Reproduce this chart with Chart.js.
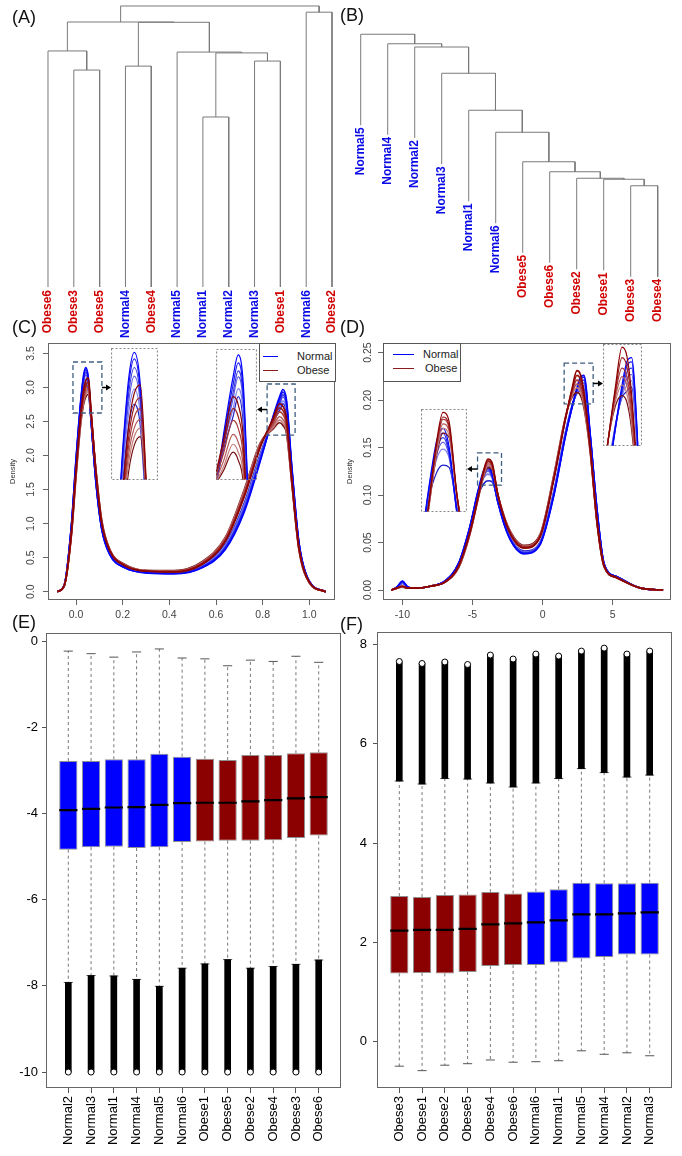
<!DOCTYPE html>
<html>
<head>
<meta charset="utf-8">
<title>Sample clustering, density and boxplots</title>
<script src="https://cdn.jsdelivr.net/npm/chart.js@4.4.1/dist/chart.umd.min.js"></script>
<style>
  body { margin: 0; background: #fff; }
  #page { position: relative; width: 682px; height: 1156px; overflow: hidden; font-family: "Liberation Sans", Arial, sans-serif; }
  #page canvas { position: absolute; }
  .tag { position: absolute; font-size: 18px; line-height: 20px; color: #111; }
  .legend { position: absolute; box-sizing: border-box; border: 1px solid #555; background: #fff; font-size: 11px; color: #222; }
  .legend .ln { position: absolute; height: 0; border-top: 1.5px solid; }
  .legend .tx { position: absolute; line-height: 12px; white-space: nowrap; }
</style>
</head>
<body>
<div id="page">
  <canvas id="dendA" width="340" height="345" style="left:0;top:0"></canvas>
  <canvas id="dendB" width="342" height="325" style="left:340px;top:0"></canvas>
  <canvas id="densC" width="340" height="290" style="left:0;top:335px"></canvas>
  <canvas id="densD" width="342" height="290" style="left:340px;top:335px"></canvas>
  <canvas id="inC1" width="47" height="132" style="left:111px;top:348px"></canvas>
  <canvas id="inC2" width="41" height="131" style="left:216px;top:349px"></canvas>
  <canvas id="inD1" width="46" height="103" style="left:421px;top:409px"></canvas>
  <canvas id="inD2" width="39" height="102" style="left:603px;top:344px"></canvas>
  <canvas id="boxE" width="345" height="531" style="left:0;top:625px"></canvas>
  <canvas id="boxF" width="342" height="531" style="left:340px;top:625px"></canvas>

  <div class="legend" style="left:259px;top:343px;width:77px;height:39px">
    <span class="ln" style="left:3px;top:12px;width:15px;border-top-color:#0000ff"></span><span class="tx" style="left:37px;top:6px">Normal</span>
    <span class="ln" style="left:3px;top:26px;width:15px;border-top-color:#8b1a1a"></span><span class="tx" style="left:37px;top:20px">Obese</span>
  </div>
  <div class="legend" style="left:383px;top:343px;width:78px;height:39px">
    <span class="ln" style="left:9px;top:10px;width:21px;border-top-color:#0000ff"></span><span class="tx" style="left:39px;top:4px">Normal</span>
    <span class="ln" style="left:9px;top:24px;width:21px;border-top-color:#8b1a1a"></span><span class="tx" style="left:41px;top:18px">Obese</span>
  </div>

  <div class="tag" style="left:12px;top:7px">(A)</div>
  <div class="tag" style="left:340px;top:5px">(B)</div>
  <div class="tag" style="left:12px;top:317px">(C)</div>
  <div class="tag" style="left:340px;top:317px">(D)</div>
  <div class="tag" style="left:12px;top:612px">(E)</div>
  <div class="tag" style="left:340px;top:614px">(F)</div>
</div>
<script>
// (A) clustering: leaves in plotted order, merges as in hclust (negative = leaf position)
const leafA = ['Obese6','Obese3','Obese5','Normal4','Obese4','Normal5','Normal1','Normal2','Normal3','Obese1','Normal6','Obese2'];
const mergeA = [[-2,-3],[-7,-8],[-4,-5],[-9,-10],[2,4],[-6,5],[-1,1],[3,6],[7,8],[-11,-12],[9,10]];
const heightA = [0.772,0.605,0.786,0.804,0.833,0.836,0.840,0.942,0.943,0.978,1.0];

// (B) clustering
const leafB = ['Normal5','Normal4','Normal2','Normal3','Normal1','Normal6','Obese5','Obese6','Obese2','Obese1','Obese3','Obese4'];
const mergeB = [[-11,-12],[-10,1],[-9,2],[-8,3],[-7,4],[-6,5],[-5,6],[-4,7],[-3,8],[-2,9],[-1,10]];
const heightB = [0.394,0.420,0.424,0.450,0.490,0.608,0.696,0.844,0.949,0.962,1.0];
const hangB = 0.364;

// (C) beta-value densities
const xC = [-0.08,-0.05,-0.02,0.0,0.02,0.032,0.042,0.053,0.065,0.085,0.11,0.145,0.21,0.31,0.42,0.54,0.64,0.72,0.79,0.845,0.872,0.887,0.902,0.925,0.955,1.0,1.07];
const cNormal = [
  [0,0.10,0.97,1.95,2.80,3.17,3.29,3.14,2.52,1.62,0.92,0.54,0.35,0.27,0.26,0.35,0.62,1.16,1.92,2.58,2.86,2.97,2.82,1.84,0.74,0.15,0],
  [0,0.10,0.96,1.93,2.78,3.14,3.26,3.11,2.51,1.62,0.93,0.55,0.35,0.28,0.27,0.36,0.64,1.19,1.94,2.56,2.82,2.93,2.78,1.82,0.73,0.15,0],
  [0,0.10,0.95,1.91,2.76,3.10,3.22,3.08,2.50,1.63,0.93,0.55,0.35,0.28,0.27,0.36,0.65,1.21,1.96,2.54,2.78,2.89,2.75,1.80,0.72,0.15,0],
  [0,0.10,0.94,1.89,2.73,3.06,3.18,3.05,2.50,1.64,0.94,0.56,0.36,0.28,0.27,0.37,0.66,1.23,1.98,2.53,2.75,2.86,2.72,1.79,0.72,0.15,0],
  [0,0.10,0.93,1.86,2.69,3.01,3.12,3.00,2.49,1.65,0.95,0.56,0.36,0.28,0.28,0.38,0.68,1.26,2.00,2.52,2.70,2.80,2.67,1.77,0.71,0.15,0],
  [0,0.09,0.91,1.83,2.65,2.95,3.05,2.95,2.48,1.66,0.96,0.57,0.37,0.29,0.28,0.39,0.70,1.29,2.03,2.50,2.66,2.76,2.62,1.75,0.70,0.15,0]
];
const cObese = [
  [0,0.09,0.86,1.78,2.60,2.95,3.10,3.14,2.63,1.76,1.01,0.60,0.38,0.30,0.29,0.40,0.74,1.38,2.12,2.55,2.76,2.72,2.55,1.65,0.66,0.14,0],
  [0,0.09,0.85,1.76,2.57,2.90,3.04,3.08,2.62,1.77,1.02,0.60,0.38,0.30,0.29,0.41,0.75,1.41,2.14,2.52,2.70,2.66,2.50,1.63,0.65,0.14,0],
  [0,0.09,0.84,1.74,2.54,2.86,2.99,3.03,2.61,1.78,1.03,0.61,0.39,0.30,0.30,0.42,0.77,1.43,2.16,2.48,2.64,2.60,2.45,1.61,0.64,0.13,0],
  [0,0.09,0.83,1.72,2.51,2.82,2.94,2.98,2.60,1.79,1.04,0.61,0.39,0.31,0.30,0.42,0.78,1.45,2.17,2.44,2.57,2.53,2.40,1.60,0.64,0.13,0],
  [0,0.09,0.82,1.70,2.48,2.78,2.90,2.94,2.59,1.80,1.05,0.62,0.39,0.31,0.30,0.43,0.79,1.47,2.18,2.41,2.52,2.48,2.36,1.59,0.63,0.13,0],
  [0,0.09,0.81,1.68,2.45,2.74,2.86,2.90,2.58,1.81,1.06,0.62,0.40,0.31,0.31,0.44,0.80,1.49,2.19,2.39,2.48,2.44,2.32,1.58,0.62,0.13,0]
];
const cTickX = [0,0.2,0.4,0.6,0.8,1.0];
const cTickY = [0,0.5,1.0,1.5,2.0,2.5,3.0,3.5];

// (D) M-value densities
const xD = [-10.8,-10.4,-10.0,-9.6,-9.0,-8.0,-7.0,-6.0,-5.2,-4.6,-4.2,-3.9,-3.6,-3.2,-2.4,-1.3,-0.2,0.8,1.6,2.1,2.45,2.7,2.95,3.4,3.9,4.4,5.3,7.0,8.6];
const dNormal = [
  [0,0.003,0.0095,0.003,0.002,0.004,0.009,0.028,0.066,0.105,0.126,0.131,0.123,0.094,0.056,0.038,0.047,0.099,0.160,0.193,0.213,0.224,0.226,0.164,0.083,0.027,0.014,0.002,0],
  [0,0.003,0.009,0.003,0.002,0.004,0.009,0.028,0.066,0.104,0.124,0.129,0.121,0.093,0.056,0.039,0.048,0.100,0.160,0.192,0.211,0.222,0.224,0.163,0.082,0.027,0.014,0.002,0],
  [0,0.003,0.0085,0.003,0.002,0.004,0.009,0.027,0.065,0.103,0.122,0.127,0.120,0.093,0.057,0.039,0.048,0.101,0.161,0.192,0.210,0.219,0.221,0.162,0.082,0.027,0.014,0.002,0],
  [0,0.003,0.008,0.003,0.002,0.004,0.009,0.027,0.065,0.103,0.120,0.125,0.119,0.094,0.057,0.040,0.049,0.102,0.162,0.193,0.209,0.216,0.218,0.161,0.081,0.027,0.014,0.002,0],
  [0,0.003,0.0075,0.003,0.002,0.004,0.009,0.027,0.064,0.102,0.118,0.122,0.118,0.095,0.058,0.040,0.049,0.103,0.163,0.193,0.208,0.213,0.215,0.160,0.081,0.026,0.014,0.002,0],
  [0,0.002,0.007,0.003,0.002,0.004,0.009,0.026,0.063,0.100,0.112,0.115,0.114,0.096,0.058,0.041,0.050,0.104,0.164,0.194,0.207,0.210,0.212,0.159,0.080,0.026,0.014,0.002,0]
];
const dObese = [
  [0,0.002,0.004,0.002,0.002,0.004,0.008,0.025,0.060,0.098,0.126,0.138,0.134,0.101,0.062,0.044,0.055,0.116,0.178,0.212,0.231,0.227,0.209,0.150,0.071,0.025,0.013,0.002,0],
  [0,0.002,0.004,0.002,0.002,0.004,0.008,0.025,0.060,0.098,0.125,0.136,0.132,0.101,0.063,0.045,0.056,0.117,0.178,0.210,0.226,0.222,0.205,0.149,0.070,0.025,0.013,0.002,0],
  [0,0.002,0.004,0.002,0.002,0.004,0.008,0.024,0.059,0.097,0.124,0.135,0.131,0.100,0.063,0.045,0.056,0.118,0.179,0.209,0.221,0.217,0.201,0.148,0.070,0.025,0.013,0.002,0],
  [0,0.002,0.0035,0.002,0.002,0.004,0.008,0.024,0.059,0.097,0.123,0.133,0.130,0.101,0.064,0.046,0.057,0.119,0.179,0.207,0.217,0.213,0.198,0.147,0.069,0.024,0.013,0.002,0],
  [0,0.002,0.0035,0.002,0.002,0.004,0.008,0.024,0.058,0.096,0.121,0.131,0.128,0.100,0.064,0.046,0.057,0.120,0.180,0.205,0.213,0.209,0.195,0.146,0.069,0.024,0.013,0.002,0],
  [0,0.002,0.003,0.002,0.002,0.004,0.008,0.023,0.058,0.096,0.120,0.129,0.127,0.101,0.065,0.047,0.058,0.121,0.180,0.203,0.208,0.205,0.192,0.145,0.068,0.024,0.013,0.002,0]
];
const dTickX = [-10,-5,0,5];
const dTickY = [0,0.05,0.10,0.15,0.20,0.25];

// (E) boxplot statistics
const boxE = ['Normal2','Normal3','Normal1','Normal4','Normal5','Normal6','Obese1','Obese5','Obese2','Obese4','Obese3','Obese6'];
const eHi  = [-0.23,-0.29,-0.37,-0.25,-0.18,-0.39,-0.41,-0.57,-0.44,-0.47,-0.35,-0.49];
const eQ3  = [-2.78,-2.78,-2.74,-2.74,-2.61,-2.68,-2.73,-2.76,-2.64,-2.64,-2.60,-2.58];
const eMed = [-3.92,-3.89,-3.86,-3.85,-3.80,-3.76,-3.75,-3.75,-3.72,-3.69,-3.65,-3.62];
const eQ1  = [-4.84,-4.78,-4.77,-4.80,-4.78,-4.66,-4.65,-4.63,-4.63,-4.62,-4.57,-4.51];
const eLo  = [-7.92,-7.76,-7.77,-7.85,-8.01,-7.59,-7.49,-7.39,-7.59,-7.55,-7.50,-7.40];
const eOutMin = [-10,-10,-10,-10,-10,-10,-10,-10,-10,-10,-10,-10];
const eTickY = [0,-2,-4,-6,-8,-10];

// (F) boxplot statistics
const boxF = ['Obese3','Obese1','Obese2','Obese5','Obese4','Obese6','Normal6','Normal1','Normal5','Normal4','Normal2','Normal3'];
const fLo  = [-0.50,-0.59,-0.48,-0.45,-0.375,-0.42,-0.41,-0.39,-0.19,-0.26,-0.23,-0.29];
const fQ1  = [1.37,1.38,1.37,1.40,1.52,1.54,1.54,1.59,1.67,1.70,1.75,1.75];
const fMed = [2.235,2.25,2.25,2.27,2.36,2.38,2.40,2.44,2.56,2.56,2.58,2.60];
const fQ3  = [2.93,2.91,2.95,2.96,3.01,2.98,3.02,3.07,3.20,3.19,3.19,3.20];
const fHi  = [5.25,5.19,5.30,5.29,5.21,5.13,5.21,5.30,5.50,5.42,5.33,5.37];
const fOutMax = [7.66,7.62,7.65,7.60,7.79,7.71,7.81,7.77,7.87,7.93,7.81,7.87];
const fTickY = [0,2,4,6,8];

const normalCols = ['#0000ff','#1c1cf0','#3a3ae0','#5b5be6','#8080ee','#2020c8'];
const obeseCols  = ['#8b0000','#9c1c1c','#a83a3a','#b45858','#c47c7c','#761010'];

Chart.defaults.font.family = '"Liberation Sans", Arial, sans-serif';

const isNormal = n => n.startsWith('Normal');
const labelColor = n => isNormal(n) ? '#0a0ae6' : '#d00000';

function fixAxis(size) {
  return s => {
    if (s.isHorizontal()) s.height = size; else s.width = size;
    s.paddingLeft = 0; s.paddingRight = 0; s.paddingTop = 0; s.paddingBottom = 0;
  };
}
const setTicks = vals => s => { s.ticks = vals.map(v => ({ value: v })); };

// frame around the plot region
Chart.register({
  id: 'frame',
  afterDraw(chart, args, o) {
    if (!o.color) return;
    const { ctx, chartArea: a } = chart;
    ctx.save();
    ctx.strokeStyle = o.color;
    ctx.lineWidth = o.width || 1;
    ctx.setLineDash(o.dash || []);
    ctx.strokeRect(Math.round(a.left) + 0.5, Math.round(a.top) + 0.5, Math.round(a.width) - 1, Math.round(a.height) - 1);
    ctx.restore();
  }
});

// dashed zoom boxes with arrows towards the insets
Chart.register({
  id: 'zoomMarks',
  afterDatasetsDraw(chart, args, o) {
    if (!o.boxes) return;
    const { ctx, scales: { x, y } } = chart;
    o.boxes.forEach(b => {
      const x0 = x.getPixelForValue(b.x[0]), x1 = x.getPixelForValue(b.x[1]);
      const y0 = y.getPixelForValue(b.y[1]), y1 = y.getPixelForValue(b.y[0]);
      ctx.save();
      ctx.strokeStyle = '#3f5f80';
      ctx.lineWidth = 1.3;
      ctx.setLineDash([5, 3]);
      ctx.strokeRect(x0, y0, x1 - x0, y1 - y0);
      ctx.setLineDash([]);
      const ym = (y0 + y1) / 2;
      const dir = b.to > x1 ? 1 : -1;
      const from = dir > 0 ? x1 : x0;
      ctx.strokeStyle = '#000';
      ctx.fillStyle = '#000';
      ctx.lineWidth = 1.5;
      ctx.beginPath(); ctx.moveTo(from, ym); ctx.lineTo(b.to - dir * 4, ym); ctx.stroke();
      ctx.beginPath(); ctx.moveTo(b.to, ym); ctx.lineTo(b.to - dir * 5, ym - 3); ctx.lineTo(b.to - dir * 5, ym + 3); ctx.closePath(); ctx.fill();
      ctx.restore();
    });
  }
});

// hanging leaf labels for dendrogram B
Chart.register({
  id: 'leafLabels',
  afterDatasetsDraw(chart, args, o) {
    if (!o.names) return;
    const { ctx, scales: { x, y } } = chart;
    ctx.save();
    ctx.font = 'bold 12px "Liberation Sans", Arial, sans-serif';
    ctx.textAlign = 'right';
    ctx.textBaseline = 'middle';
    o.names.forEach((n, i) => {
      ctx.save();
      ctx.translate(x.getPixelForValue(i + 1), y.getPixelForValue(o.ends[i]) + 2);
      ctx.rotate(-Math.PI / 2);
      ctx.fillStyle = labelColor(n);
      ctx.fillText(n, 0, 0);
      ctx.restore();
    });
    ctx.restore();
  }
});

const baseOpts = { responsive: false, animation: false, devicePixelRatio: 1, events: [] };
const quiet = { legend: { display: false }, tooltip: { enabled: false } };

function dendro(merges, heights, hang) {
  const nodes = [], pts = [], ends = [];
  const child = (id, h) => {
    if (id < 0) {
      const bottom = hang == null ? 0 : h - hang;
      ends[-id - 1] = bottom;
      return { x: -id, h: bottom };
    }
    return nodes[id - 1];
  };
  merges.forEach((m, k) => {
    const h = heights[k];
    const a = child(m[0], h), b = child(m[1], h);
    pts.push({ x: a.x, y: a.h }, { x: a.x, y: h }, { x: b.x, y: h }, { x: b.x, y: b.h }, { x: a.x, y: null });
    nodes.push({ x: (a.x + b.x) / 2, h });
  });
  return { pts, ends };
}

const treeStyle = { showLine: true, borderColor: '#7a7a7a', borderWidth: 1, pointRadius: 0, spanGaps: false, tension: 0 };

const treeA = dendro(mergeA, heightA, null);
new Chart(document.getElementById('dendA'), {
  type: 'scatter',
  data: { datasets: [Object.assign({ data: treeA.pts }, treeStyle)] },
  options: Object.assign({}, baseOpts, {
    layout: { padding: { top: 2, left: 0, right: 0, bottom: 0 }, autoPadding: false },
    plugins: quiet,
    scales: {
      x: {
        type: 'linear', min: -0.859, max: 12.309,
        afterBuildTicks: setTicks(leafA.map((_, i) => i + 1)),
        grid: { display: false, drawTicks: false }, border: { display: false },
        ticks: {
          autoSkip: false, minRotation: 90, maxRotation: 90, padding: 3,
          font: { size: 12, weight: 'bold' },
          color: c => labelColor(leafA[c.index]),
          callback: v => leafA[v - 1]
        },
        afterFit: fixAxis(58)
      },
      y: { display: false, min: 0, max: 1.0142 }
    }
  })
});

const treeB = dendro(mergeB, heightB, hangB);
new Chart(document.getElementById('dendB'), {
  type: 'scatter',
  data: { datasets: [Object.assign({ data: treeB.pts }, treeStyle)] },
  options: Object.assign({}, baseOpts, {
    layout: { padding: 0, autoPadding: false },
    plugins: Object.assign({ leafLabels: { names: leafB, ends: treeB.ends } }, quiet),
    scales: {
      x: { type: 'linear', display: false, min: 0.233, max: 12.9 },
      y: { display: false, min: -0.163, max: 1.137 }
    }
  })
});

function densitySets(xs, normals, obese, width) {
  const mk = (arr, col) => ({
    data: xs.map((x, i) => ({ x, y: arr[i] })),
    borderColor: col, borderWidth: width, pointRadius: 0,
    cubicInterpolationMode: 'monotone', fill: false
  });
  return obese.map((a, i) => mk(a, obeseCols[i])).concat(normals.map((a, i) => mk(a, normalCols[i])));
}

function axisStyle(ticks, fmt, size, extra) {
  return Object.assign({
    afterBuildTicks: setTicks(ticks),
    grid: { drawOnChartArea: false, tickLength: 5, color: '#666' },
    border: { display: false },
    afterFit: fixAxis(size)
  }, extra, {
    ticks: Object.assign({ callback: fmt, autoSkip: false, font: { size: 10.5 }, color: '#444' }, extra.ticks)
  });
}

function densityChart(id, xs, normals, obese, xr, yr, tx, ty, fx, fy, yw, padR, ypad, tpad, boxes) {
  new Chart(document.getElementById(id), {
    type: 'line',
    data: { datasets: densitySets(xs, normals, obese, 1.6) },
    options: Object.assign({}, baseOpts, {
      layout: { padding: { top: 8, right: padR, left: 0, bottom: 0 }, autoPadding: false },
      plugins: Object.assign({ frame: { color: '#666' }, zoomMarks: { boxes } }, quiet),
      scales: {
        x: axisStyle(tx, fx, 25, { type: 'linear', min: xr[0], max: xr[1], ticks: { padding: 4, maxRotation: 0 } }),
        y: axisStyle(ty, fy, yw, {
          min: yr[0], max: yr[1],
          ticks: { padding: ypad, minRotation: 90, maxRotation: 90, crossAlign: 'center' },
          title: { display: true, text: 'Density', font: { size: 7.5 }, color: '#333', padding: { top: tpad, bottom: 0 } }
        })
      }
    })
  });
}

densityChart('densC', xC, cNormal, cObese, [-0.12, 1.11], [-0.122, 3.652], cTickX, cTickY,
  v => v.toFixed(1), v => v.toFixed(1), 48, 5, 5, 8.5,
  [{ x: [-0.013, 0.111], y: [2.624, 3.373], to: 111 }, { x: [0.819, 0.939], y: [2.30, 3.05], to: 257 }]);

densityChart('densD', xD, dNormal, dObese, [-11.386, 9.164], [-0.0105, 0.2601], dTickX, dTickY,
  v => String(v), v => v.toFixed(2), 43, 11, 0, 5.5,
  [{ x: [-4.64, -2.93], y: [0.1104, 0.1444], to: 127 }, { x: [1.54, 3.61], y: [0.196, 0.239], to: 263 }]);

function inset(id, xs, normals, obese, xr, yr) {
  new Chart(document.getElementById(id), {
    type: 'line',
    data: { datasets: densitySets(xs, normals, obese, 1.2) },
    options: Object.assign({}, baseOpts, {
      layout: { padding: 0, autoPadding: false },
      plugins: Object.assign({ frame: { color: '#888', dash: [2, 2], width: 1.2 } }, quiet),
      scales: {
        x: { type: 'linear', display: false, min: xr[0], max: xr[1] },
        y: { display: false, min: yr[0], max: yr[1] }
      }
    })
  });
}
inset('inC1', xC, cNormal, cObese, [0.0, 0.085], [2.70, 3.31]);
inset('inC2', xC, cNormal, cObese, [0.822, 0.942], [2.34, 3.0]);
inset('inD1', xD, dNormal, dObese, [-4.98, -2.72], [0.0945, 0.1395]);
inset('inD2', xD, dNormal, dObese, [1.45, 3.5], [0.184, 0.2325]);

function boxPlot(id, names, lo, q1, med, q3, hi, outEdge, outEnd, yr, yTicks, yw, padR, padTop, ypad) {
  const xs = names.map((_, i) => i + 1);
  const fills = names.map(n => isNormal(n) ? '#0000ff' : '#8b0000');
  const pairs = f => xs.flatMap((x, i) => f(x, i).concat([{ x, y: null }]));
  const line = (data, color, width, dash, order) => ({
    type: 'line', data, borderColor: color, borderWidth: width, borderDash: dash,
    pointRadius: 0, spanGaps: false, tension: 0, order
  });
  new Chart(document.getElementById(id), {
    type: 'bar',
    data: {
      datasets: [
        line(pairs((x, i) => [{ x, y: q3[i] }, { x, y: hi[i] }]).concat(pairs((x, i) => [{ x, y: q1[i] }, { x, y: lo[i] }])), '#555', 0.8, [3, 3], 5),
        line(pairs((x, i) => [{ x: x - 0.2, y: hi[i] }, { x: x + 0.2, y: hi[i] }]).concat(pairs((x, i) => [{ x: x - 0.2, y: lo[i] }, { x: x + 0.2, y: lo[i] }])), '#555', 1, [], 4),
        { type: 'bar', data: xs.map((x, i) => ({ x, y: [q1[i], q3[i]] })), backgroundColor: fills,
          borderColor: 'rgba(70,70,70,0.6)', borderWidth: 1, borderSkipped: false, grouped: false,
          categoryPercentage: 1, barPercentage: 0.8, order: 3 },
        { type: 'bar', data: xs.map((x, i) => ({ x, y: [outEdge[i], outEnd[i]] })), backgroundColor: '#000',
          barThickness: 6, grouped: false, borderWidth: 0, order: 2 },
        { type: 'scatter', data: xs.map((x, i) => ({ x, y: outEnd[i] })), pointRadius: 3,
          pointBackgroundColor: '#fff', pointBorderColor: '#000', pointBorderWidth: 1, order: 1 },
        line(pairs((x, i) => [{ x: x - 0.4, y: med[i] }, { x: x + 0.4, y: med[i] }]), '#000', 2.2, [], 0)
      ]
    },
    options: Object.assign({}, baseOpts, {
      layout: { padding: { top: padTop, right: padR, left: 0, bottom: 0 }, autoPadding: false },
      plugins: Object.assign({ frame: { color: '#666' } }, quiet),
      scales: {
        x: {
          type: 'linear', min: 0.02, max: 12.98, offset: false,
          afterBuildTicks: setTicks(xs),
          grid: { drawOnChartArea: false, tickLength: 5, color: '#555', offset: false },
          border: { display: false },
          ticks: { autoSkip: false, minRotation: 90, maxRotation: 90, padding: 3, font: { size: 13 }, color: '#000', callback: v => names[v - 1] },
          afterFit: fixAxis(68)
        },
        y: {
          min: yr[0], max: yr[1],
          afterBuildTicks: setTicks(yTicks),
          grid: { drawOnChartArea: false, tickLength: 4, color: '#555' },
          border: { display: false },
          ticks: { autoSkip: false, padding: ypad, font: { size: 13 }, color: '#000', callback: v => String(v) },
          afterFit: fixAxis(yw)
        }
      }
    })
  });
}

boxPlot('boxE', boxE, eLo, eQ1, eMed, eQ3, eHi, eLo, eOutMin, [-10.37, 0.19], eTickY, 46, 4, 8, 4);
boxPlot('boxF', boxF, fLo, fQ1, fMed, fQ3, fHi, fHi, fOutMax, [-0.94, 8.255], fTickY, 37, 10, 7, 6);
</script>
</body>
</html>
